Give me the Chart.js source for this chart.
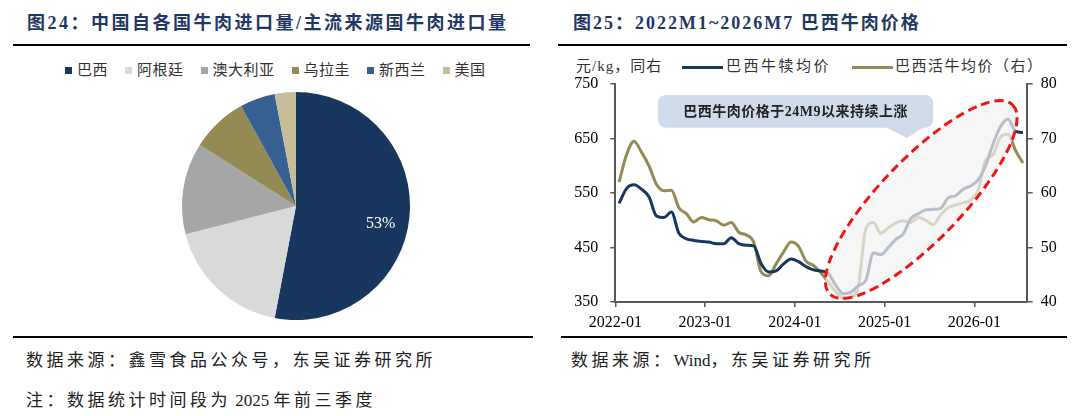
<!DOCTYPE html>
<html>
<head>
<meta charset="utf-8">
<script src="https://cdn.jsdelivr.net/npm/chart.js@4.4.1/dist/chart.umd.min.js"></script>
<style>
  body { margin: 0; width: 1080px; height: 416px; background: #fff; position: relative; overflow: hidden;
         font-family: "Liberation Serif", "Noto Sans CJK SC", serif; color: #222; }
  .abs { position: absolute; white-space: nowrap; line-height: 1; }
  .title { font-weight: bold; font-size: 18px; color: #1f3864; letter-spacing: 2.5px; }
  .rule { position: absolute; height: 2px; background: #000; }
  .foot { font-size: 17px; letter-spacing: 3.5px; color: #222; }
  .foot .lat { letter-spacing: 0; }
  .leg { font-size: 15px; color: #333; }
  .swatch { position: absolute; width: 7px; height: 7px; }
  .lineSw { position: absolute; height: 3px; }
</style>
</head>
<body>

<div class="abs title" style="left:27px; top:14px;">图24：中国自各国牛肉进口量/主流来源国牛肉进口量</div>
<div class="rule" style="left:13px; width:517px; top:44px;"></div>
<div class="abs title" style="left:573px; top:14px; letter-spacing:2px;">图25：2022M1~2026M7 巴西牛肉价格</div>
<div class="rule" style="left:558px; width:509px; top:44px;"></div>

<div id="pieLegend"></div>
<canvas id="pie" width="540" height="250" style="position:absolute; left:0; top:85px;"></canvas>

<div class="abs leg" style="left:576px; top:59px; letter-spacing:1px;">元/kg，同右</div>
<div class="lineSw" style="left:682px; width:41px; top:66px; background:#17375e;"></div>
<div class="abs leg" style="left:726px; top:59px; letter-spacing:2.5px;">巴西牛犊均价</div>
<div class="lineSw" style="left:852px; width:41px; top:66px; background:#948a54;"></div>
<div class="abs leg" style="left:895px; top:59px; letter-spacing:1.5px;">巴西活牛均价（右）</div>
<canvas id="price" width="540" height="280" style="position:absolute; left:540px; top:60px;"></canvas>

<div class="rule" style="left:13px; width:520px; top:336px;"></div>
<div class="rule" style="left:561px; width:506px; top:336px;"></div>
<div class="abs foot" style="left:26px; top:352px;">数据来源：鑫雪食品公众号，东吴证券研究所</div>
<div class="abs foot" style="left:26px; top:392px;">注：数据统计时间段为<span class="lat"> 2025 </span>年前三季度</div>
<div class="abs foot" style="left:571px; top:352px;">数据来源：<span class="lat">Wind</span>，东吴证券研究所</div>

<script>
// ---- data: import share by origin (pie) ----
const pieLabels = ["巴西", "阿根廷", "澳大利亚", "乌拉圭", "新西兰", "美国"];
const pieShares = [53, 18, 13, 8, 5, 3];
const pieColors = ["#17375e", "#d9d9d9", "#a6a6a6", "#948a54", "#376092", "#c4bd97"];

// ---- data: Brazil prices, one value per month 2022-01 .. 2026-07 ----
const calfPrice = [531, 558, 565, 557, 543, 508, 505, 515, 476, 466,
                   463, 461, 460, 457, 457, 468, 457, 454, 453, 420,
                   405, 407, 420, 429, 424, 415, 409, 407, 402, 380,
                   365, 368, 380, 390, 440, 437, 450, 465, 475, 503,
                   512, 519, 520, 522, 541, 545, 557, 563, 574, 600,
                   640, 672, 686, 663, 661];
const cattlePrice = [62, 67, 69.5, 67.5, 65, 61.6, 60.4, 60.5, 57.3, 56.2,
                     54.7, 55.5, 55.1, 54.9, 54.1, 54.6, 52.8, 52.3, 51, 45.5,
                     44.8, 47, 49.2, 51, 50.2, 47.5, 46.7, 45.3, 43.6, 41.8,
                     40.8, 41, 43, 53.5, 54.6, 52.6, 53.6, 54.5, 54.9, 54.6,
                     55.5, 55, 54.2, 56, 57.3, 57.8, 58.2, 58.7, 60.5, 66,
                     67, 70.3, 70.8, 67.8, 65.5];
const xTickLabels = ["2022-01", "2023-01", "2024-01", "2025-01", "2026-01"];
const leftTicks = [350, 450, 550, 650, 750];
const rightTicks = [40, 50, 60, 70, 80];

// month labels (categories)
const periods = [];
for (let yr = 2022; yr <= 2026; yr++) {
  for (let m = 1; m <= 12; m++) {
    if (yr === 2026 && m > 7) break;
    periods.push(yr + "-" + String(m).padStart(2, "0"));
  }
}

// annotation shapes, anchored in data space (month index, left-axis value)
const ellipseSpec = { cx: 40.9, cy: 538, tipX: 53.1, tipY: 712, minor: 0.31 };
const bubbleSpec = { x0: 5.7, x1: 42.5, top: 730, bottom: 669.5, tail0: 36.0, tail1: 41.3, tipX: 39.0, tipY: 651,
                     text: "巴西牛肉价格于24M9以来持续上涨" };

// ---- pie legend (html) ----
const legendBox = document.getElementById("pieLegend");
let lx = 65;
pieLabels.forEach((name, i) => {
  const sw = document.createElement("div");
  sw.className = "swatch";
  sw.style.left = lx + "px";
  sw.style.top = "67px";
  sw.style.background = pieColors[i];
  legendBox.appendChild(sw);
  const t = document.createElement("div");
  t.className = "abs leg";
  t.style.left = (lx + 12) + "px";
  t.style.top = "63px";
  t.style.letterSpacing = "0.5px";
  t.textContent = name;
  legendBox.appendChild(t);
  lx += 12 + name.length * 15.5 + 17;
});

const pieLabel = {
  id: "pieLabel",
  afterDatasetsDraw(chart) {
    const arc = chart.getDatasetMeta(0).data[0];
    const p = arc.getProps(["x", "y", "startAngle", "endAngle", "outerRadius"]);
    const mid = (p.startAngle + p.endAngle) / 2 + 0.115;
    const r = p.outerRadius * 0.76;
    const ctx = chart.ctx;
    ctx.save();
    ctx.fillStyle = "#fff";
    ctx.font = '16px "Liberation Serif"';
    ctx.textAlign = "center";
    ctx.textBaseline = "middle";
    ctx.fillText(pieShares[0] + "%", p.x + Math.cos(mid) * r, p.y + Math.sin(mid) * r);
    ctx.restore();
  }
};

new Chart(document.getElementById("pie"), {
  type: "pie",
  data: {
    labels: pieLabels,
    datasets: [{ data: pieShares, backgroundColor: pieColors, borderWidth: 0 }]
  },
  options: {
    responsive: false,
    animation: false,
    devicePixelRatio: 1,
    layout: { padding: { left: 182, right: 130, top: 7, bottom: 15 } },
    plugins: { legend: { display: false }, tooltip: { enabled: false } }
  },
  plugins: [pieLabel]
});

// ---- price chart ----
const annotate = {
  id: "annotate",
  afterDatasetsDraw(chart) {
    const { ctx, scales: { x, y } } = chart;
    const cx = x.getPixelForValue(ellipseSpec.cx), cy = y.getPixelForValue(ellipseSpec.cy);
    const tx = x.getPixelForValue(ellipseSpec.tipX), ty = y.getPixelForValue(ellipseSpec.tipY);
    const a = Math.hypot(tx - cx, ty - cy);
    const ang = Math.atan2(ty - cy, tx - cx);
    ctx.save();
    ctx.beginPath();
    ctx.ellipse(cx, cy, a, a * ellipseSpec.minor, ang, 0, Math.PI * 2);
    ctx.fillStyle = "rgba(242,242,242,0.72)";
    ctx.fill();
    ctx.setLineDash([9, 5]);
    ctx.lineWidth = 3;
    ctx.strokeStyle = "#f01414";
    ctx.stroke();
    ctx.restore();

    // callout bubble
    const l = x.getPixelForValue(bubbleSpec.x0), r = x.getPixelForValue(bubbleSpec.x1);
    const t = y.getPixelForValue(bubbleSpec.top), b = y.getPixelForValue(bubbleSpec.bottom);
    ctx.save();
    ctx.fillStyle = "#cfdbeb";
    ctx.beginPath();
    ctx.roundRect(l, t, r - l, b - t, 8);
    ctx.fill();
    ctx.beginPath();
    ctx.moveTo(x.getPixelForValue(bubbleSpec.tail0), b - 1);
    ctx.lineTo(x.getPixelForValue(bubbleSpec.tipX), y.getPixelForValue(bubbleSpec.tipY));
    ctx.lineTo(x.getPixelForValue(bubbleSpec.tail1), b - 1);
    ctx.closePath();
    ctx.fill();
    ctx.fillStyle = "#222";
    ctx.font = 'bold 14px "Liberation Serif", "Noto Sans CJK SC"';
    ctx.letterSpacing = "0.5px";
    ctx.textAlign = "center";
    ctx.textBaseline = "middle";
    ctx.fillText(bubbleSpec.text, (l + r) / 2, (t + b) / 2 + 1);
    ctx.restore();
  }
};

const axisGrid = (len) => ({ drawOnChartArea: false, drawTicks: true, tickLength: len, color: "#595959", lineWidth: 1.5 });
const axisBorder = { display: true, color: "#595959", width: 2 };
const tickFont = { family: "Liberation Serif", size: 16 };

new Chart(document.getElementById("price"), {
  type: "line",
  data: {
    datasets: [
      {
        label: "巴西牛犊均价",
        data: calfPrice.map((v, i) => ({ x: i + 0.5, y: v })),
        borderColor: "#17375e",
        borderWidth: 3,
        pointRadius: 0,
        cubicInterpolationMode: "monotone",
        yAxisID: "y"
      },
      {
        label: "巴西活牛均价（右）",
        data: cattlePrice.map((v, i) => ({ x: i + 0.5, y: v })),
        borderColor: "#948a54",
        borderWidth: 3,
        pointRadius: 0,
        cubicInterpolationMode: "monotone",
        yAxisID: "y1"
      }
    ]
  },
  options: {
    responsive: false,
    animation: false,
    devicePixelRatio: 1,
    layout: { padding: { top: 24, left: 0, right: 0, bottom: 0 } },
    plugins: { legend: { display: false }, tooltip: { enabled: false } },
    scales: {
      x: {
        type: "linear",
        min: 0,
        max: periods.length,
        afterBuildTicks: (s) => { s.ticks = xTickLabels.map(lbl => ({ value: periods.indexOf(lbl) })); },
        ticks: { callback: (v, i) => xTickLabels[i], font: tickFont, color: "#000", padding: 6, maxRotation: 0, autoSkip: false },
        grid: axisGrid(5),
        border: axisBorder,
        afterFit: (s) => { s.height = 38; }
      },
      y: {
        position: "left",
        min: leftTicks[0],
        max: leftTicks[leftTicks.length - 1],
        afterBuildTicks: (s) => { s.ticks = leftTicks.map(v => ({ value: v })); },
        ticks: { font: tickFont, color: "#000", padding: 12 },
        grid: axisGrid(5),
        border: axisBorder,
        afterFit: (s) => { s.width = 75.3; }
      },
      y1: {
        position: "right",
        min: rightTicks[0],
        max: rightTicks[rightTicks.length - 1],
        afterBuildTicks: (s) => { s.ticks = rightTicks.map(v => ({ value: v })); },
        ticks: { font: tickFont, color: "#000", padding: 8 },
        grid: axisGrid(6),
        border: axisBorder,
        afterFit: (s) => { s.width = 53.3; }
      }
    }
  },
  plugins: [annotate]
});
</script>
</body>
</html>
